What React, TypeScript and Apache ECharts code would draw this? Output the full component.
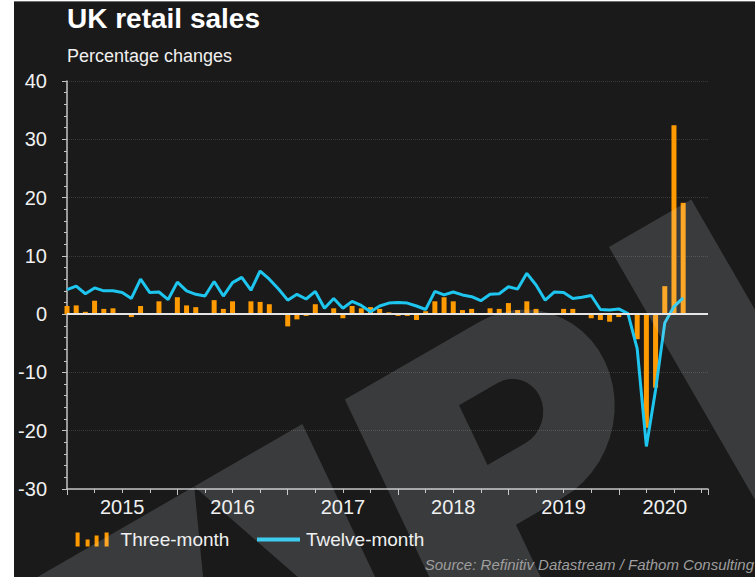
import React, { useEffect, useRef } from 'react';
import * as echarts from 'echarts';

// Monthly data, Jan 2015 – Aug 2020
const yearLabels = ['2015', '2016', '2017', '2018', '2019', '2020'];

const threeMonth = [
  1.4, 1.5, 0.4, 2.3, 0.9, 1.0, 0.2, -0.5, 1.4, 0.0, 2.2, 0.0,
  2.9, 1.5, 1.2, 0.2, 2.4, 0.9, 2.2, 0.2, 2.2, 2.1, 1.7, 0.0,
  -2.1, -0.9, -0.3, 1.7, 0.0, 1.0, -0.7, 1.4, 1.0, 1.2, 0.9, 0.3,
  -0.3, -0.3, -1.0, 0.5, 2.2, 2.9, 2.2, 0.7, 0.9, 0.2, 1.0, 0.9,
  1.9, 0.7, 2.2, 0.9, 0.2, 0.0, 0.9, 0.9, 0.1, -0.7, -1.0, -1.3,
  -0.5, 0.0, -4.3, -19.5, -12.6, 4.8, 32.4, 19.1,
];

const twelveMonth = [
  4.2, 4.8, 3.5, 4.5, 4.0, 4.0, 3.7, 2.7, 6.0, 3.7, 3.8, 2.5,
  5.5, 4.0, 3.4, 3.1, 5.6, 3.1, 5.4, 6.3, 4.1, 7.4, 6.0, 4.3,
  2.4, 3.4, 2.6, 3.9, 1.0, 2.7, 1.0, 2.2, 1.5, 0.4, 1.4, 1.9,
  2.0, 1.9, 1.4, 0.8, 3.9, 3.3, 3.8, 3.3, 3.0, 2.3, 3.4, 3.5,
  4.7, 4.3, 7.0, 5.0, 2.4, 3.8, 3.7, 2.7, 2.9, 3.2, 0.8, 0.7,
  0.9, 0.1, -5.9, -22.7, -13.0, -1.5, 1.3, 2.8,
];

const yMin = -30;
const yMax = 40;
const yStep = 10;
const axisEndMonth = 69.7; // x-axis extends to ~mid Oct 2020

const FONT = '"Liberation Sans", Arial, Helvetica, sans-serif';
const ORANGE = '#ff9a00';
const BLUE = '#1ec6ef';
const AXIS = '#c4c4c4';
const WM = 'rgba(235,240,250,0.155)';

// ---- background watermark (large rotated letters), built as one SVG path ----
const WM_ROT = Math.PI / 6;
const WM_OX = 609;
const WM_OY = 247;
const WM_SHEAR = 0.08;
function wmPt(u: number, v: number, shear: number): string {
  const uu = u - shear * v;
  const c = Math.cos(WM_ROT);
  const s = Math.sin(WM_ROT);
  const x = WM_OX + uu * c + v * s;
  const y = WM_OY - uu * s + v * c;
  return x.toFixed(1) + ',' + y.toFixed(1);
}
function arcPts(cu: number, cv: number, r: number, a0: number, a1: number, n: number): number[][] {
  const out: number[][] = [];
  for (let i = 0; i <= n; i++) {
    const a = ((a0 + ((a1 - a0) * i) / n) * Math.PI) / 180;
    out.push([cu + r * Math.cos(a), cv + r * Math.sin(a)]);
  }
  return out;
}
function poly(pts: number[][], shear: number): string {
  return 'M' + pts.map(([u, v]) => wmPt(u, v, shear)).join('L') + 'Z';
}
const wmPath = [
  poly([[-760, 0], [-479, 0], [-591, 300], [-760, 300]], WM_SHEAR),
  poly([[-479, 0], [-354, 0], [-354, 296]], WM_SHEAR),
  poly([[-305, 0], ...arcPts(-150, 97, 97, -90, 90, 24), [-204, 194], [-204, 420], [-305, 420]], WM_SHEAR),
  poly([[-204, 62], [-204, 128], ...arcPts(-160, 95, 33, 90, -90, 16)], WM_SHEAR),
  poly([[0, 0], [95, 0], [95, 520], [0, 520]], 0),
].join(' ');
echarts.graphic.registerShape('wmark', echarts.graphic.extendPath(wmPath, {}));

export default function App() {
  const ref = useRef<HTMLDivElement>(null);

  useEffect(() => {
    if (!ref.current) return;
    const chart = echarts.init(ref.current, null, { renderer: 'svg' });

    const barData = threeMonth.map((v, i) => [i, v]);
    const lineData = twelveMonth.map((v, i) => [i, v]);
    const lastBar = threeMonth[threeMonth.length - 1];
    const lastLine = twelveMonth[twelveMonth.length - 1];
    const labelPos = yearLabels.map((_, k) => {
      const s = k * 12;
      const e = Math.min(s + 12, axisEndMonth);
      return Math.round((s + e) / 2);
    });

    const baseX = {
      type: 'value' as const,
      min: 0,
      max: axisEndMonth,
      position: 'bottom' as const,
      splitLine: { show: false },
    };

    chart.setOption({
      animation: false,
      backgroundColor: 'transparent',
      grid: { left: 67, right: 47, top: 81, bottom: 88, containLabel: false },
      legend: [
        {
          data: ['Three-month'],
          left: 75.6,
          top: 530,
          padding: 0,
          itemWidth: 33,
          itemHeight: 14,
          icon: 'path://M0,0h4v14h-4z M10,7h4v7h-4z M19,3h4v11h-4z M29,0h4v14h-4z',
          textStyle: { color: '#f0f0f0', fontSize: 19, fontFamily: FONT, padding: [0, 0, 0, 7] },
          selectedMode: false,
        },
        {
          data: ['Twelve-month'],
          left: 257,
          top: 530,
          padding: 0,
          itemWidth: 43,
          itemHeight: 4,
          icon: 'rect',
          textStyle: { color: '#f0f0f0', fontSize: 19, fontFamily: FONT, padding: [0, 0, 0, 1] },
          selectedMode: false,
        },
      ],
      xAxis: [
        {
          ...baseX,
          interval: 3,
          axisLine: { show: true, onZero: false, lineStyle: { color: AXIS, width: 1.5 } },
          axisTick: { show: true, length: 4, lineStyle: { color: AXIS } },
          axisLabel: { show: false },
        },
        {
          ...baseX,
          interval: 12,
          axisLine: { show: false, onZero: false },
          axisTick: { show: true, length: 6, lineStyle: { color: AXIS } },
          axisLabel: { show: false },
        },
        {
          ...baseX,
          interval: 1,
          axisLine: { show: false, onZero: false },
          axisTick: { show: false },
          axisLabel: {
            show: true,
            color: '#f0f0f0',
            fontSize: 20,
            fontFamily: FONT,
            margin: 8,
            formatter: (v: number) => {
              const idx = labelPos.findIndex((p) => Math.abs(p - v) < 0.01);
              return idx >= 0 ? yearLabels[idx] : '';
            },
          },
        },
      ],
      yAxis: {
        type: 'value',
        min: yMin,
        max: yMax,
        interval: yStep,
        axisLine: { show: true, onZero: false, lineStyle: { color: AXIS, width: 1.5 } },
        axisTick: { show: true, length: 5, lineStyle: { color: AXIS } },
        minorTick: { show: true, splitNumber: 5, length: 3, lineStyle: { color: AXIS } },
        axisLabel: { color: '#f0f0f0', fontSize: 20, fontFamily: FONT, margin: 20 },
        splitLine: { show: true, lineStyle: { color: '#3a3a3a', type: 'dotted', width: 1 } },
      },
      series: [
        {
          name: 'Three-month',
          type: 'bar',
          xAxisIndex: 0,
          data: barData,
          barWidth: 5,
          itemStyle: { color: ORANGE },
          markLine: {
            silent: true,
            symbol: 'none',
            animation: false,
            data: [
              {
                yAxis: 0,
                lineStyle: { color: '#e4e4e4', width: 2, type: 'solid' },
                label: { show: false },
              },
              {
                yAxis: lastBar,
                lineStyle: { opacity: 0 },
                label: {
                  show: true,
                  position: 'end',
                  distance: 2,
                  formatter: () => String(lastBar),
                  backgroundColor: ORANGE,
                  color: '#1c1c1c',
                  fontSize: 20,
                  fontFamily: FONT,
                  padding: [5, 10, 4, 10],
                },
              },
            ],
          },
        },
        {
          name: 'Twelve-month',
          type: 'line',
          xAxisIndex: 0,
          data: lineData,
          showSymbol: false,
          symbol: 'none',
          lineStyle: { color: BLUE, width: 3 },
          itemStyle: { color: BLUE },
          markLine: {
            silent: true,
            symbol: 'none',
            animation: false,
            data: [
              {
                yAxis: lastLine,
                lineStyle: { opacity: 0 },
                label: {
                  show: true,
                  position: 'end',
                  distance: 2,
                  formatter: () => String(lastLine),
                  backgroundColor: '#25c9f1',
                  color: '#2a2a2a',
                  fontSize: 20,
                  fontFamily: FONT,
                  padding: [5, 6, 4, 9],
                },
              },
            ],
          },
        },
      ],
      graphic: [
        {
          type: 'wmark',
          x: 0,
          y: 0,
          scaleX: 1,
          scaleY: 1,
          z: 100,
          silent: true,
          style: { fill: WM, stroke: 'none' },
        },
        {
          type: 'text',
          x: 67,
          y: 18,
          z: 101,
          style: {
            text: 'UK retail sales',
            font: `bold 28px ${FONT}`,
            fill: '#ffffff',
            verticalAlign: 'middle',
            textVerticalAlign: 'middle',
          },
        },
        {
          type: 'text',
          x: 67,
          y: 56,
          z: 101,
          style: {
            text: 'Percentage changes',
            font: `18px ${FONT}`,
            fill: '#f0f0f0',
            verticalAlign: 'middle',
            textVerticalAlign: 'middle',
          },
        },
        {
          type: 'text',
          x: 754,
          y: 564,
          z: 101,
          style: {
            text: 'Source: Refinitiv Datastream / Fathom Consulting',
            font: `italic 15px ${FONT}`,
            fill: '#9e9e9e',
            align: 'right',
            textAlign: 'right',
            verticalAlign: 'middle',
            textVerticalAlign: 'middle',
          },
        },
      ],
    });

    return () => chart.dispose();
  }, []);

  return (
    <div style={{ position: 'absolute', left: 0, top: 0, width: 755, height: 577, background: '#ffffff', overflow: 'hidden' }}>
      <div
        style={{
          position: 'absolute',
          left: 14,
          top: 1,
          width: 741,
          height: 576,
          background: '#1a1a1a',
          borderTop: '1px solid #707070',
          boxSizing: 'border-box',
        }}
      />
      <div ref={ref} style={{ position: 'absolute', left: 0, top: 0, width: 755, height: 577 }} />
    </div>
  );
}
